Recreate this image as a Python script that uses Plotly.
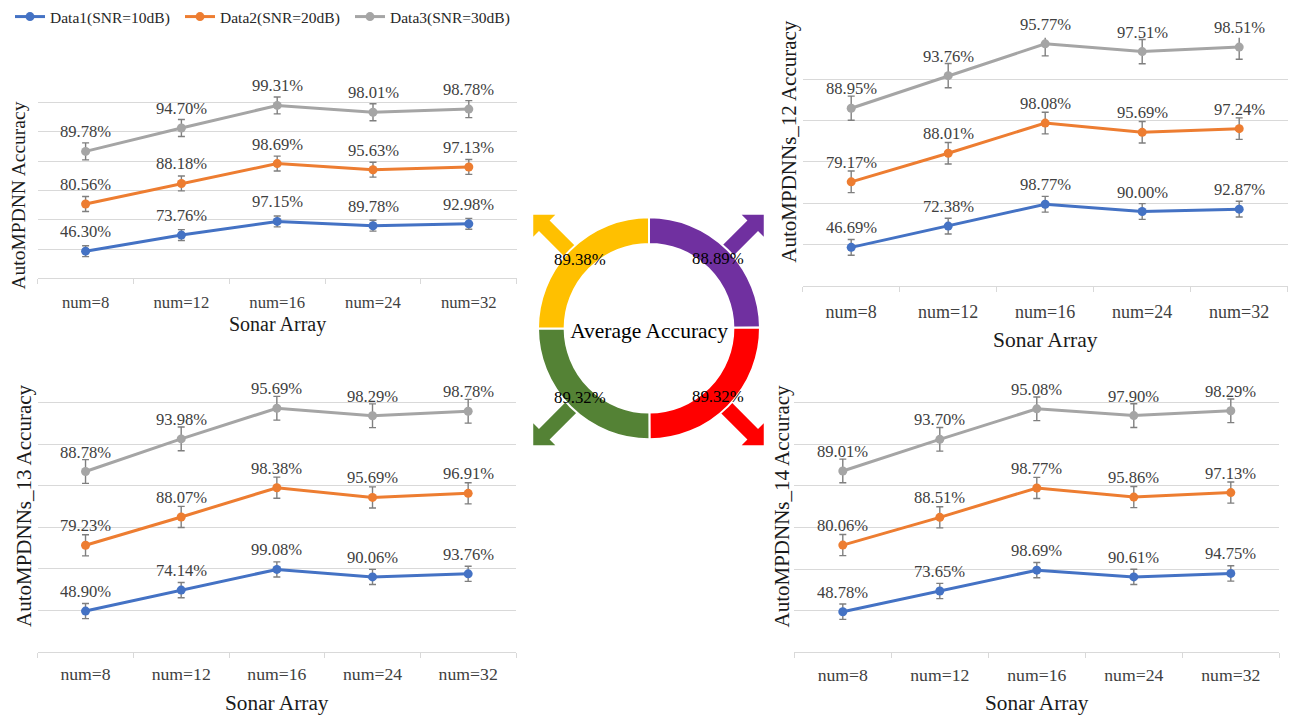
import numpy as np
import plotly.graph_objects as go

W, H = 1290, 717
FONT = "Liberation Serif, Times New Roman, serif"

# ---------------- data ----------------
categories = ["num=8", "num=12", "num=16", "num=24", "num=32"]
series_names = ["Data1(SNR=10dB)", "Data2(SNR=20dB)", "Data3(SNR=30dB)"]
series_colors = ["#4472C4", "#ED7D31", "#A5A5A5"]

# AutoMPDNN
p1_data1 = [46.30, 73.76, 97.15, 89.78, 92.98]
p1_data2 = [80.56, 88.18, 98.69, 95.63, 97.13]
p1_data3 = [89.78, 94.70, 99.31, 98.01, 98.78]
# AutoMPDNNs_12
p2_data1 = [46.69, 72.38, 98.77, 90.00, 92.87]
p2_data2 = [79.17, 88.01, 98.08, 95.69, 97.24]
p2_data3 = [88.95, 93.76, 95.77, 97.51, 98.51]
# AutoMPDNNs_13
p3_data1 = [48.90, 74.14, 99.08, 90.06, 93.76]
p3_data2 = [79.23, 88.07, 98.38, 95.69, 96.91]
p3_data3 = [88.78, 93.98, 95.69, 98.29, 98.78]
# AutoMPDNNs_14
p4_data1 = [48.78, 73.65, 98.69, 90.61, 94.75]
p4_data2 = [80.06, 88.51, 98.77, 95.86, 97.13]
p4_data3 = [89.01, 93.70, 95.08, 97.90, 98.29]

# error bar half-lengths (stacked-axis units, one per series)
p1_err = [0.093, 0.127, 0.145]
p2_err = [0.095, 0.130, 0.146]
p3_err = [0.091, 0.127, 0.143]
p4_err = [0.092, 0.127, 0.142]

panel_titles = ["AutoMPDNN Accuracy", "AutoMPDNNs_12 Accuracy",
                "AutoMPDNNs_13 Accuracy", "AutoMPDNNs_14 Accuracy"]

# donut: clockwise from 12 o'clock
avg_names = ["AutoMPDNNs_12", "AutoMPDNNs_14", "AutoMPDNNs_13", "AutoMPDNN"]
avg_values = [88.89, 89.32, 89.32, 89.38]
avg_colors = ["#7030A0", "#FF0000", "#548235", "#FFC000"]
center_title = "Average Accuracy"


def pxx(x):
    return x / W


def pxy(y):
    return 1 - y / H


panels = [
    dict(values=[p1_data1, p1_data2, p1_data3], err=p1_err, title=panel_titles[0],
         left=37.7, right=516.7, top=73.3, bottom=278.3, ymax=3.5,
         yt=(17.5, 196), yt_size=19.5, tick_size=16.7, standoff=9, xt_y=324, xt_size=20),
    dict(values=[p2_data1, p2_data2, p2_data3], err=p2_err, title=panel_titles[1],
         left=802.7, right=1287.7, top=37.7, bottom=286.0, ymax=3.0,
         yt=(789, 141.7), yt_size=21, tick_size=18, standoff=9, xt_y=340, xt_size=21.5),
    dict(values=[p3_data1, p3_data2, p3_data3], err=p3_err, title=panel_titles[2],
         left=37.7, right=516.0, top=361.0, bottom=651.7, ymax=3.5,
         yt=(24, 506), yt_size=21, tick_size=17.7, standoff=6, xt_y=703, xt_size=21.3),
    dict(values=[p4_data1, p4_data2, p4_data3], err=p4_err, title=panel_titles[3],
         left=794.3, right=1279.3, top=361.0, bottom=652.3, ymax=3.5,
         yt=(781.5, 506), yt_size=21, tick_size=17.7, standoff=6, xt_y=703, xt_size=21.3),
]

fig = go.Figure()
annotations = []
layout_axes = {}

for i, p in enumerate(panels):
    k = "" if i == 0 else str(i + 1)
    xa, ya = "x" + k, "y" + k
    stacked = np.cumsum(np.array(p["values"], dtype=float) / 100.0, axis=0)
    for s in range(3):
        fig.add_trace(go.Scatter(
            x=categories, y=stacked[s], xaxis=xa, yaxis=ya,
            mode="lines+markers", name=series_names[s],
            legendgroup=series_names[s], showlegend=(i == 0),
            line=dict(color=series_colors[s], width=3),
            marker=dict(size=9, color=series_colors[s]),
            error_y=dict(type="constant", value=p["err"][s], color="#7F7F7F",
                         thickness=1.4, width=3.5),
            cliponaxis=False,
        ))
        for j, c in enumerate(categories):
            annotations.append(dict(
                x=c, y=stacked[s][j], xref=xa, yref=ya,
                text=f"{p['values'][s][j]:.2f}%", showarrow=False, yshift=19.5,
                font=dict(family=FONT, size=16.6, color="#404040")))
    layout_axes["xaxis" + k] = dict(
        domain=[pxx(p["left"]), pxx(p["right"])], anchor=ya,
        type="category", categoryorder="array", categoryarray=categories,
        range=[-0.5, 4.5], showgrid=False, zeroline=False,
        showline=True, linecolor="#D9D9D9", linewidth=1,
        ticks="outside", tickson="boundaries", ticklen=5, tickcolor="#D9D9D9",
        tickfont=dict(family=FONT, size=p["tick_size"], color="#404040"),
        ticklabelstandoff=p["standoff"], fixedrange=True)
    layout_axes["yaxis" + k] = dict(
        domain=[pxy(p["bottom"]), pxy(p["top"])], anchor=xa,
        range=[0, p["ymax"]], dtick=0.5, tick0=0,
        showgrid=True, gridcolor="#D9D9D9", gridwidth=1,
        showticklabels=False, ticks="", zeroline=False, showline=False,
        fixedrange=True)
    # axis titles
    annotations.append(dict(
        x=pxx(p["yt"][0]), y=pxy(p["yt"][1]), xref="paper", yref="paper",
        text=p["title"], textangle=-90, showarrow=False,
        xanchor="center", yanchor="middle",
        font=dict(family=FONT, size=p["yt_size"], color="#1A1A1A")))
    annotations.append(dict(
        x=pxx((p["left"] + p["right"]) / 2), y=pxy(p["xt_y"]),
        xref="paper", yref="paper", text="Sonar Array", showarrow=False,
        xanchor="center", yanchor="middle",
        font=dict(family=FONT, size=p["xt_size"], color="#1A1A1A")))

# ---------------- donut ----------------
pie_left, pie_right, pie_top, pie_bottom = 538.0, 760.0, 217.0, 439.5
cx, cy = (pie_left + pie_right) / 2, (pie_top + pie_bottom) / 2
r_out = (pie_right - pie_left) / 2
hole = 0.76
fig.add_trace(go.Pie(
    values=avg_values, labels=avg_names, sort=False, direction="clockwise",
    rotation=0, hole=hole, textinfo="none", hoverinfo="label+value",
    marker=dict(colors=avg_colors, line=dict(color="white", width=2)),
    domain=dict(x=[pxx(pie_left), pxx(pie_right)], y=[pxy(pie_bottom), pxy(pie_top)]),
    title=dict(text=center_title, position="middle center",
               font=dict(family=FONT, size=21.5, color="#000000")),
    showlegend=False,
))

# slice value labels at the ring middle
tot = float(sum(avg_values))
cum = 0.0
r_mid = r_out * (1 + hole) / 2
for v in avg_values:
    mid = (cum + v / 2) / tot * 2 * np.pi
    cum += v
    lx = cx + r_mid * np.sin(mid)
    ly = cy - r_mid * np.cos(mid)
    annotations.append(dict(
        x=pxx(lx), y=pxy(ly), xref="paper", yref="paper", text=f"{v:.2f}%",
        showarrow=False, xanchor="center", yanchor="middle",
        font=dict(family=FONT, size=16.8, color="#000000")))

# outward arrows (decoration)
shapes = []
acx, acy = 648.5, 330.0
tip_d = 163.0
head = 15.6
shaft_hw = 7.5
length = 56.0
cum = 0.0
for v, col in zip(avg_values, avg_colors):
    mid = (cum + v / 2) / tot * 2 * np.pi
    cum += v
    # snap to diagonal of the quadrant
    ang = np.round((mid - np.pi / 4) / (np.pi / 2)) * (np.pi / 2) + np.pi / 4
    d = np.array([np.sin(ang), -np.cos(ang)])
    n = np.array([-d[1], d[0]])
    T = np.array([acx, acy]) + tip_d * d
    B = T - head * d
    tail = T - length * d
    pts = [T, B + head * n, B + shaft_hw * n, tail + shaft_hw * n,
           tail - shaft_hw * n, B - shaft_hw * n, B - head * n]
    path = "M " + " L ".join(f"{pxx(q[0]):.5f},{pxy(q[1]):.5f}" for q in pts) + " Z"
    shapes.append(dict(type="path", path=path, xref="paper", yref="paper",
                       fillcolor=col, line=dict(width=0), layer="below"))

fig.update_layout(
    width=W, height=H,
    margin=dict(l=0, r=0, t=0, b=0),
    paper_bgcolor="white", plot_bgcolor="white",
    font=dict(family=FONT, color="#404040"),
    showlegend=True,
    legend=dict(orientation="h", x=10 / W, y=1.0, xanchor="left", yanchor="top",
                entrywidth=125, entrywidthmode="pixels",
                font=dict(family=FONT, size=15.5, color="#262626"),
                bgcolor="rgba(0,0,0,0)"),
    annotations=annotations,
    shapes=shapes,
    **layout_axes,
)

fig.write_html("out.html")
